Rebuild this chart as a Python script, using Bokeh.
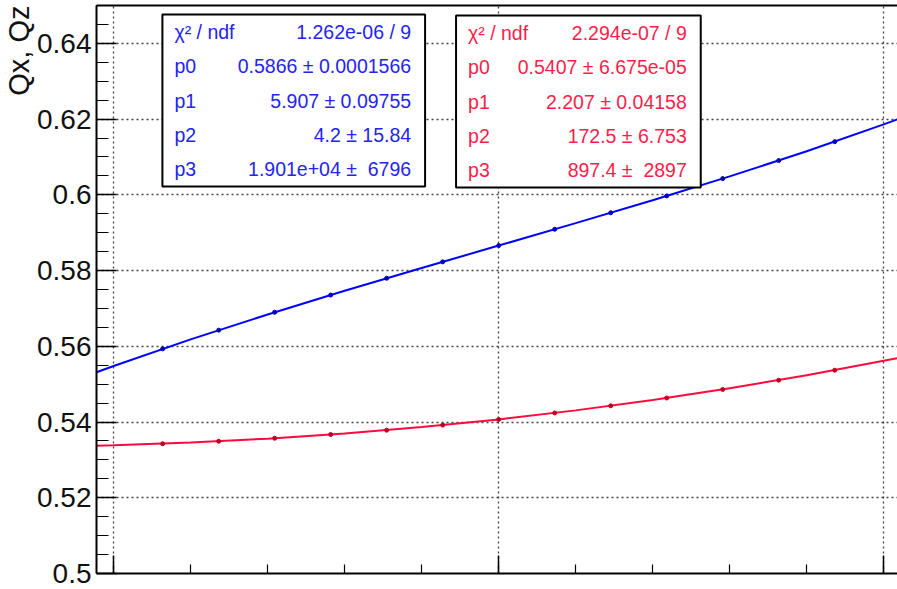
import numpy as np
from bokeh.plotting import figure
from bokeh.models import Range1d, FixedTicker, LinearAxis, BoxAnnotation, Label, Title
from bokeh.embed import file_html
from bokeh.resources import INLINE

# ---------------- data (x in units of 1e-3) ----------------
x_points = [-4.364, -3.636, -2.909, -2.182, -1.455, -0.727, 0.0,
            0.727, 1.455, 2.182, 2.909, 3.636, 4.364]
qx_points = [0.55932, 0.56426, 0.56899, 0.57353, 0.57796, 0.58230, 0.58660,
             0.59090, 0.59526, 0.59971, 0.60429, 0.60905, 0.61404]
qz_points = [0.53428, 0.53491, 0.53572, 0.53670, 0.53785, 0.53919, 0.54070,
             0.54240, 0.54428, 0.54635, 0.54860, 0.55105, 0.55369]

fit_x = [-5.223, -5, -4, -3, -2, -1, 0, 1, 2, 3, 4, 5, 5.179]
fit_qx = [0.55315, 0.55479, 0.56182, 0.56840, 0.57465, 0.58068, 0.58660,
          0.59253, 0.59858, 0.60487, 0.61151, 0.61862, 0.61995]
fit_qz = [0.53375, 0.53387, 0.53458, 0.53561, 0.53697, 0.53867, 0.54070,
          0.54308, 0.54581, 0.54890, 0.55235, 0.55616, 0.55688]

stat_names = ["χ² / ndf", "p0", "p1", "p2", "p3"]
qx_stat_values = ["1.262e-06 / 9", "0.5866 ± 0.0001566", "5.907 ± 0.09755",
                  "4.2 ± 15.84", "1.901e+04 ±\u00a0 6796"]
qz_stat_values = ["2.294e-07 / 9", "0.5407 ± 6.675e-05", "2.207 ± 0.04158",
                  "172.5 ± 6.753", "897.4 ±\u00a0 2897"]

y_tick_values = [0.5, 0.52, 0.54, 0.56, 0.58, 0.6, 0.62, 0.64]
y_tick_labels = ["0.5", "0.52", "0.54", "0.56", "0.58", "0.6", "0.62", "0.64"]
x_tick_values = [-5, 0, 5]
x_tick_labels = ["-5", "0", "5"]
y_title = "Qx, Qz"

# ---------------- layout / style ----------------
W, H = 897, 589
FONT = "Liberation Sans"
BLUE = "#0000ff"
BLUE_TXT = "#2424f0"
RED = "#ff0a3c"
RED_TXT = "#fa1e4b"

X0, X1 = -5.223, 5.179
Y0, Y1 = 0.5, 0.65
FL, FR, FT, FB = 95, 897, 5, 573   # frame pixel edges


def px2x(px):
    return X0 + (px - FL) * (X1 - X0) / (FR - FL)


def py2y(py):
    return Y1 - (py - FT) * (Y1 - Y0) / (FB - FT)


p = figure(width=W, height=H, x_range=Range1d(X0, X1), y_range=Range1d(Y0, Y1),
           output_backend="svg", toolbar_location=None,
           min_border_left=FL, min_border_right=0, min_border_top=FT,
           min_border_bottom=H - FB)
p.outline_line_color = None
p.background_fill_color = "white"
p.border_fill_color = "white"

x_ticker = FixedTicker(ticks=x_tick_values, minor_ticks=list(range(-5, 6)))
y_ticker = FixedTicker(ticks=y_tick_values,
                       minor_ticks=[round(v, 3) for v in np.arange(0.5, 0.6501, 0.005)])

xa = p.xaxis[0]
xa.ticker = x_ticker
xa.major_tick_in = 18
xa.major_tick_out = 0
xa.minor_tick_in = 9
xa.minor_tick_out = 0
xa.axis_line_width = 2
xa.major_tick_line_width = 1.5
xa.minor_tick_line_width = 1.2
xa.major_label_overrides = {v: "" for v in x_tick_values}
xa.major_label_text_font_size = "1px"
xa.major_label_standoff = 0

ya = p.yaxis[0]
ya.ticker = y_ticker
ya.major_tick_in = 20
ya.major_tick_out = 0
ya.minor_tick_in = 12
ya.minor_tick_out = 0
ya.axis_line_width = 2
ya.major_tick_line_width = 1.5
ya.minor_tick_line_width = 1.2
ya.major_label_overrides = {v: t for v, t in zip(y_tick_values, y_tick_labels)}
ya.major_label_text_font = FONT
ya.major_label_text_font_size = "28px"
ya.major_label_text_color = "#111111"
ya.major_label_standoff = 5

top = LinearAxis(ticker=FixedTicker(ticks=[]), axis_line_width=2,
                 major_tick_in=0, major_tick_out=0, minor_tick_in=0, minor_tick_out=0,
                 major_label_text_font_size="1px", major_label_standoff=0)
p.add_layout(top, "above")

# y axis title as a left-side title aligned with the top of the axis
p.add_layout(Title(text=y_title, align="right", standoff=0, offset=0,
                   text_font=FONT, text_font_size="29px", text_font_style="normal",
                   text_color="#111111"), "left")

for g, tk in ((p.xgrid[0], x_ticker), (p.ygrid[0], y_ticker)):
    g.ticker = tk
    g.grid_line_color = "#222222"
    g.grid_line_dash = "2 3"
    g.grid_line_width = 1.3
    g.grid_line_alpha = 0.85

# curves and points
p.line(fit_x, fit_qx, line_color=BLUE, line_width=2)
p.line(fit_x, fit_qz, line_color=RED, line_width=2)
p.scatter(x_points, qx_points, size=4, color="#0000c0")
p.scatter(x_points, qz_points, size=4, color="#c00020")

# stat boxes
boxes = [
    (161, 424, 14, 186, qx_stat_values, BLUE_TXT),
    (455, 700, 15, 187, qz_stat_values, RED_TXT),
]
for (l, r, t, b, vals, col) in boxes:
    p.add_layout(BoxAnnotation(left=px2x(l), right=px2x(r), top=py2y(t), bottom=py2y(b),
                               fill_color="white", fill_alpha=1.0,
                               line_color="black", line_width=2, line_alpha=1.0))
    rh = (b - t) / len(stat_names)
    for i, (nm, vv) in enumerate(zip(stat_names, vals)):
        yc = py2y(t + rh * (i + 0.5))
        p.add_layout(Label(x=px2x(l + 12), y=yc, text=nm, text_align="left",
                           text_baseline="middle", text_font=FONT,
                           text_font_size="19.5px", text_color=col))
        p.add_layout(Label(x=px2x(r - 14), y=yc, text=vv, text_align="right",
                           text_baseline="middle", text_font=FONT,
                           text_font_size="19.5px", text_color=col))

# x tick labels (cut off by the bottom of the canvas)
for v, t in zip(x_tick_values, x_tick_labels):
    p.add_layout(Label(x=v, y=py2y(579), text=t, text_align="center",
                       text_baseline="top", text_font=FONT,
                       text_font_size="28px", text_color="#111111"))

open("out.html", "w").write(file_html(p, INLINE))
